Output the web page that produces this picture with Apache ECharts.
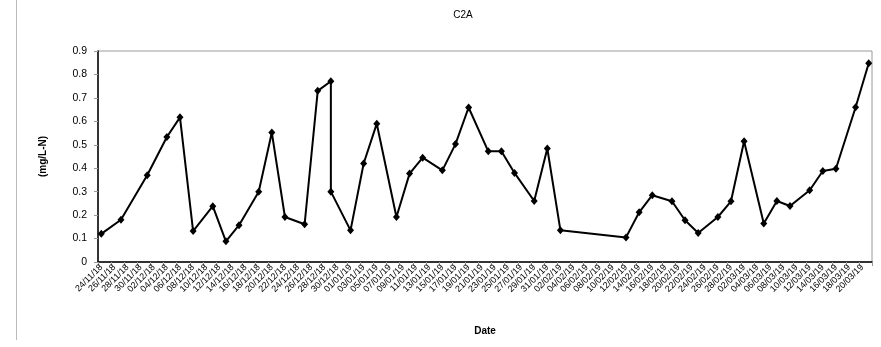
<!DOCTYPE html>
<html>
<head>
<meta charset="utf-8">
<script src="https://cdn.jsdelivr.net/npm/echarts@6/dist/echarts.min.js"></script>
<style>html,body{margin:0;padding:0;background:#fff}#c{width:881px;height:347px}</style>
</head>
<body>
<div id="c"></div>
<script>
// Axis category range: daily dates, labels every 2 days
const axisStart = [2018, 10, 24];
const axisDays = 118;

// Sample dates and values (mg/L-N)
const sampleDates = [
  '24/11/18','27/11/18','01/12/18','04/12/18','06/12/18','08/12/18','11/12/18','13/12/18',
  '15/12/18','18/12/18','20/12/18','22/12/18','25/12/18','27/12/18','29/12/18','29/12/18',
  '01/01/19','03/01/19','05/01/19','08/01/19','10/01/19','12/01/19','15/01/19','17/01/19',
  '19/01/19','22/01/19','24/01/19','26/01/19','29/01/19','31/01/19','02/02/19','12/02/19',
  '14/02/19','16/02/19','19/02/19','21/02/19','23/02/19','26/02/19','28/02/19','02/03/19',
  '05/03/19','07/03/19','09/03/19','12/03/19','14/03/19','16/03/19','19/03/19','21/03/19'
];
const values = [
  0.12, 0.18, 0.37, 0.533, 0.617, 0.132, 0.238, 0.088,
  0.157, 0.30, 0.552, 0.192, 0.161, 0.73, 0.771, 0.30,
  0.135, 0.42, 0.59, 0.192, 0.377, 0.445, 0.391, 0.503,
  0.659, 0.472, 0.472, 0.38, 0.26, 0.484, 0.135, 0.105,
  0.212, 0.285, 0.259, 0.178, 0.124, 0.192, 0.259, 0.515,
  0.164, 0.26, 0.239, 0.306, 0.388, 0.398, 0.66, 0.848
];
const yTicks = [0, 0.1, 0.2, 0.3, 0.4, 0.5, 0.6, 0.7, 0.8, 0.9];

function pad(n){ return (n < 10 ? '0' : '') + n; }
const categories = [];
const t0 = Date.UTC(axisStart[0], axisStart[1], axisStart[2]);
for (let i = 0; i < axisDays; i++) {
  const d = new Date(t0 + i * 86400000);
  categories.push(pad(d.getUTCDate()) + '/' + pad(d.getUTCMonth() + 1) + '/' + String(d.getUTCFullYear()).slice(2));
}

const chart = echarts.init(document.getElementById('c'), null, {renderer: 'canvas'});
const font = '"Liberation Sans", Arial, sans-serif';
chart.setOption({
  animation: false,
  backgroundColor: '#fff',
  title: {
    text: 'C2A', left: 458, top: 5, textAlign: 'center',
    textStyle: {fontFamily: font, fontSize: 10, fontWeight: 'normal', color: '#000'}
  },
  graphic: [
    {type: 'line', shape: {x1: 16.5, y1: 0, x2: 16.5, y2: 340}, style: {stroke: '#bbbbbb', lineWidth: 1}, silent: true}
  ],
  grid: {
    left: 98, right: 9, top: 51, bottom: 85,
    show: true, borderColor: '#9a9a9a', borderWidth: 1, backgroundColor: '#fff'
  },
  xAxis: {
    type: 'category',
    data: categories,
    boundaryGap: true,
    name: 'Date',
    nameLocation: 'middle',
    nameGap: 64,
    nameTextStyle: {fontFamily: font, fontSize: 10, fontWeight: 'bold', color: '#000'},
    axisLine: {lineStyle: {color: '#000', width: 1.5}},
    axisTick: {show: true, interval: 1, length: 4, lineStyle: {color: '#999'}},
    axisLabel: {
      interval: 1, rotate: 45, fontFamily: font, fontSize: 9, color: '#000', margin: 4
    },
    splitLine: {show: false}
  },
  yAxis: {
    type: 'value',
    min: 0, max: 0.9, interval: 0.1,
    name: '(mg/L-N)',
    nameLocation: 'middle',
    nameGap: 50,
    nameRotate: 90,
    nameTextStyle: {fontFamily: font, fontSize: 10, fontWeight: 'bold', color: '#000'},
    axisLine: {show: true, lineStyle: {color: '#000', width: 1.5}},
    axisTick: {show: true, length: 4, lineStyle: {color: '#999'}},
    axisLabel: {
      fontFamily: font, fontSize: 10.5, color: '#000', margin: 11,
      formatter: function (v) {
        const m = yTicks.find(t => Math.abs(t - v) < 1e-9);
        return m === undefined ? '' : String(m);
      }
    },
    splitLine: {show: false}
  },
  series: [{
    type: 'line',
    data: sampleDates.map((d, i) => [d, values[i]]),
    symbol: 'diamond',
    symbolSize: [7, 8],
    showAllSymbol: true,
    lineStyle: {color: '#000', width: 2},
    itemStyle: {color: '#000'},
    z: 5
  }]
});
</script>
</body>
</html>
